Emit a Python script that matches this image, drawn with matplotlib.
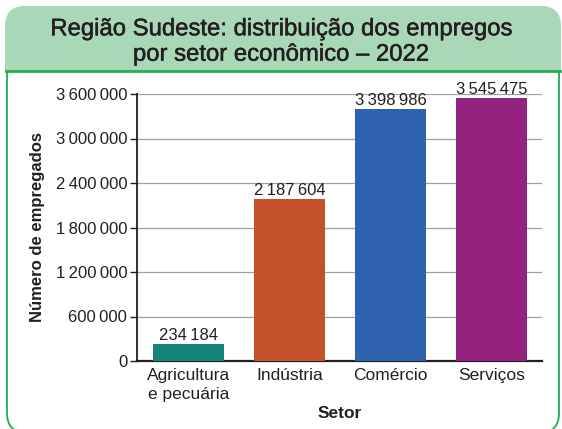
import matplotlib
matplotlib.use("Agg")
import matplotlib.pyplot as plt
from matplotlib.patches import FancyBboxPatch, Rectangle
from matplotlib.ticker import FuncFormatter
import matplotlib.patheffects as pe

categories = ["Agricultura\ne pecuária", "Indústria", "Comércio", "Serviços"]
values = [234184, 2187604, 3398986, 3545475]
colors = ["#16847a", "#c5512b", "#2f62ae", "#94237f"]
yticks = [0, 600000, 1200000, 1800000, 2400000, 3000000, 3600000]

title = "Região Sudeste: distribuição dos empregos\npor setor econômico – 2022"
ylabel = "Número de empregados"
xlabel = "Setor"

plt.rcParams['font.family'] = ['Liberation Sans', 'DejaVu Sans']

W, H = 562, 429
fig = plt.figure(figsize=(W / 100, H / 100), dpi=100)
ink = "#231f20"
green = "#1fae4b"


def px_box(x0, y0, x1, y1):
    """pixel box (top-left origin) -> figure fraction (x, y, w, h)"""
    return x0 / W, (H - y1) / H, (x1 - x0) / W, (y1 - y0) / H


def fmt(v):
    return f"{int(v):,}".replace(",", "\u2009")


r = 20 / W
# outer frame
x, y, w, h = px_box(7, 7, 559, 433)
frame = FancyBboxPatch((x, y), w, h, boxstyle=f"round,pad=0,rounding_size={r}",
                       transform=fig.transFigure, facecolor="white",
                       edgecolor=green, linewidth=1.3, zorder=0,
                       mutation_aspect=W / H)
fig.patches.append(frame)
# header fill (rounded top)
x, y, w, h = px_box(5, 6, 561, 71)
header = FancyBboxPatch((x, y), w, h, boxstyle=f"round,pad=0,rounding_size={r}",
                        transform=fig.transFigure, facecolor="#a8d8b6",
                        edgecolor="none", zorder=1, mutation_aspect=W / H)
fig.patches.append(header)
x, y, w, h = px_box(5, 40, 561, 71)
fig.patches.append(Rectangle((x, y), w, h, transform=fig.transFigure,
                             facecolor="#a8d8b6", edgecolor="none", zorder=1))
fig.lines.append(plt.Line2D([6 / W, 560 / W], [(H - 71) / H] * 2, transform=fig.transFigure,
                            color=green, linewidth=2.0, zorder=3))
t = fig.text(0.5, (H - 42) / H, title, ha="center", va="center", fontsize=17.2,
             color=ink, linespacing=1.2, zorder=4)
t.set_path_effects([pe.withStroke(linewidth=0.35, foreground=ink)])

ax = fig.add_axes(px_box(137, 94, 542, 361))
ax.set_zorder(5)
xs = list(range(len(categories)))
bars = ax.bar(xs, values, width=0.70, color=colors, zorder=3)
ax.set_xlim(-0.51, 3.5)
ax.set_ylim(0, 3600000)
ax.set_yticks(yticks)
ax.yaxis.set_major_formatter(FuncFormatter(lambda v, p: fmt(v)))
ax.set_xticks(xs)
ax.set_xticklabels(categories, fontsize=12.5, color=ink, linespacing=1.3)
ax.tick_params(axis="y", labelsize=12, colors=ink, length=5, width=1, pad=2)
ax.tick_params(axis="x", length=0, pad=5)
ax.grid(axis="y", color="#a0a0a0", linewidth=0.9, zorder=0)
ax.set_axisbelow(True)
for s in ["top", "right"]:
    ax.spines[s].set_visible(False)
ax.spines["left"].set_color(ink)
ax.spines["bottom"].set_color(ink)
ax.spines["left"].set_linewidth(1.3)
ax.spines["bottom"].set_linewidth(1.6)
for b, v in zip(bars, values):
    ax.annotate(fmt(v), (b.get_x() + b.get_width() / 2, v), xytext=(0, 0.5),
                textcoords="offset points", ha="center", va="bottom",
                fontsize=12, color=ink)
ax.set_ylabel(ylabel, fontsize=12, fontweight="bold", color=ink, labelpad=8)
ax.set_xlabel(xlabel, fontsize=12.5, fontweight="bold", color=ink, labelpad=3)

fig.savefig("out.png", dpi=100)
